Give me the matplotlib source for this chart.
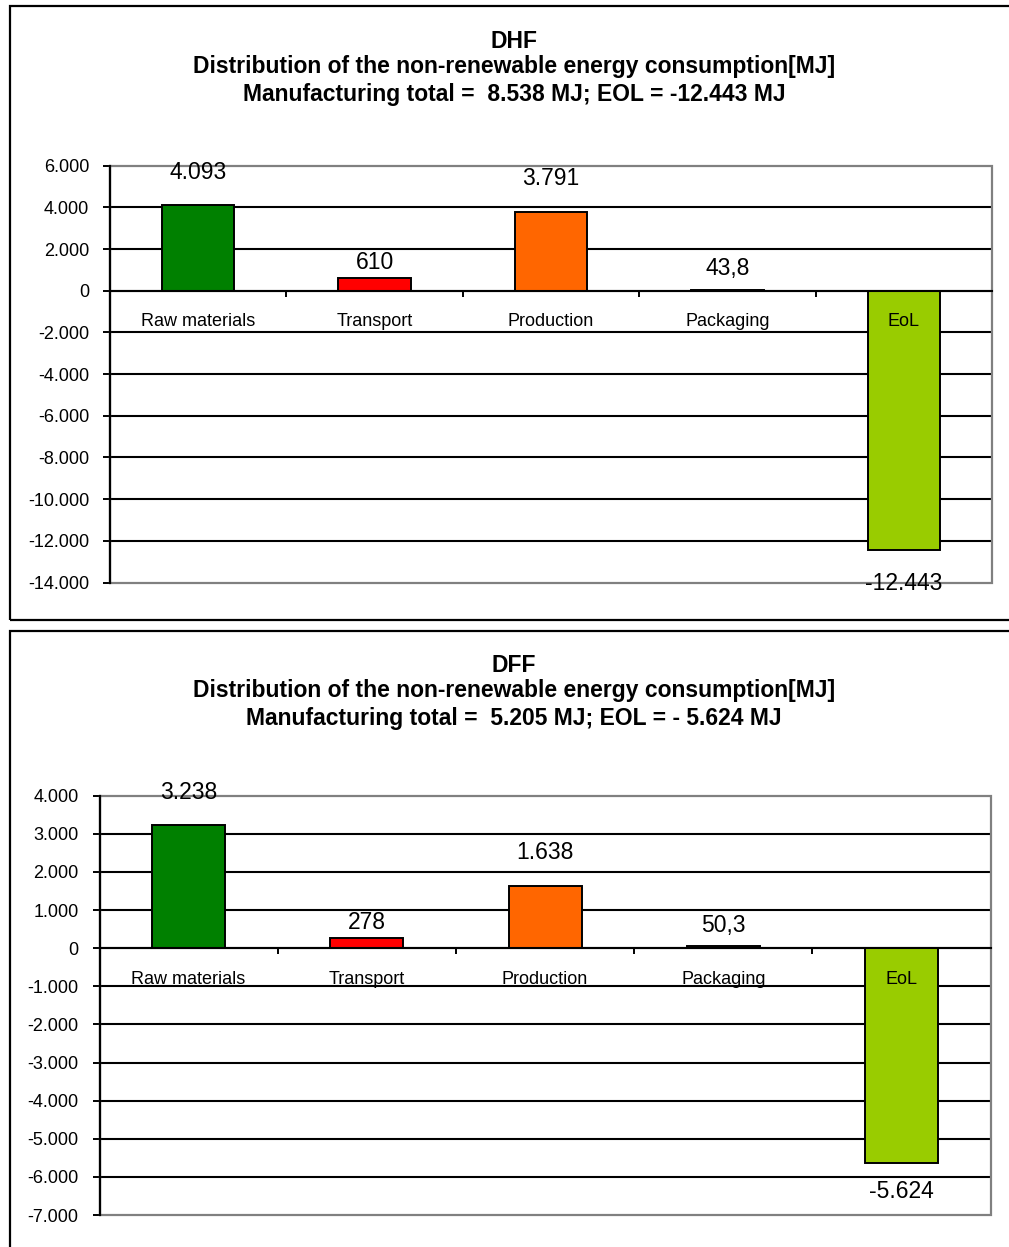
import matplotlib
matplotlib.use("Agg")
import matplotlib.pyplot as plt
from matplotlib.patches import Rectangle
from matplotlib.ticker import FuncFormatter, FixedLocator

plt.rcParams['font.family'] = ['Liberation Sans', 'DejaVu Sans']

categories = ["Raw materials", "Transport", "Production", "Packaging", "EoL"]
bar_colors = ["#008000", "#FF0000", "#FF6600", "#FFCC00", "#99CC00"]

dhf_values = [4093, 610, 3791, 43.8, -12443]
dff_values = [3238, 278, 1638, 50.3, -5624]

dhf_title = ["DHF",
             "Distribution of the non-renewable energy consumption[MJ]",
             "Manufacturing total =  8.538 MJ; EOL = -12.443 MJ"]
dff_title = ["DFF",
             "Distribution of the non-renewable energy consumption[MJ]",
             "Manufacturing total =  5.205 MJ; EOL = - 5.624 MJ"]

dhf_yticks = list(range(-14000, 6001, 2000))
dff_yticks = list(range(-7000, 4001, 1000))

# vertical distance (pixels) of each value label from its bar end
dhf_label_gap = [33, 16, 33, 21, -33]
dff_label_gap = [32, 15, 33, 21, -29]


def fmt_num(v, pos=None):
    if float(v).is_integer():
        return f"{int(v):,}".replace(",", ".")
    return f"{v:.1f}".replace(".", ",")


W, H = 1009, 1247
fig = plt.figure(figsize=(W / 100, H / 100), dpi=100)


def fx(px):
    return px / W


def fy(py):
    return 1 - py / H


# outer chart frames
fig.add_artist(Rectangle((fx(10), fy(620)), 1.2, fy(6) - fy(620),
                         transform=fig.transFigure, fill=False,
                         edgecolor="black", lw=1.6))
fig.add_artist(Rectangle((fx(10), -0.1), 1.2, fy(630.5) + 0.1,
                         transform=fig.transFigure, fill=False,
                         edgecolor="black", lw=1.6))


def draw_panel(rect, values, yticks, title_lines, title_y, gaps):
    ax = fig.add_axes(rect)
    x = list(range(len(categories)))
    ax.set_xlim(-0.5, len(categories) - 0.5)
    ax.set_ylim(yticks[0], yticks[-1])

    ax.bar(x, values, width=0.41, color=bar_colors, edgecolor="black",
           linewidth=1.4, zorder=3)

    # horizontal gridlines
    for t in yticks[1:-1]:
        ax.axhline(t, color="black", lw=1.5, zorder=1)

    # plot-area border in grey
    ax.add_patch(Rectangle((0, 0), 1, 1, transform=ax.transAxes, fill=False,
                           edgecolor="#808080", lw=1.6, zorder=2, clip_on=False))

    for s in ["top", "right"]:
        ax.spines[s].set_visible(False)
    ax.spines["left"].set_color("black")
    ax.spines["left"].set_linewidth(1.6)
    ax.spines["left"].set_zorder(4)
    ax.spines["bottom"].set_position(("data", 0))
    ax.spines["bottom"].set_linewidth(1.5)
    ax.spines["bottom"].set_zorder(4)

    ax.yaxis.set_major_locator(FixedLocator(yticks))
    ax.yaxis.set_major_formatter(FuncFormatter(fmt_num))
    ax.tick_params(axis="y", direction="out", length=5, width=1.4,
                   pad=10, labelsize=13, colors="black")

    ax.xaxis.set_major_locator(FixedLocator([i + 0.5 for i in x]))
    ax.tick_params(axis="x", direction="out", length=4, width=1.4,
                   labelbottom=False)

    for i, (c, v, g) in enumerate(zip(categories, values, gaps)):
        ax.annotate(c, (i, 0), xytext=(0, -31), textcoords="offset pixels",
                    ha="center", va="center", fontsize=13, zorder=6)
        ax.annotate(fmt_num(v), (i, v), xytext=(0, g),
                    textcoords="offset pixels", ha="center", va="center",
                    fontsize=16.5, zorder=6, annotation_clip=False)

    for line, py in zip(title_lines, title_y):
        fig.text(fx(514), fy(py), line, ha="center", va="center",
                 fontsize=16.5, fontweight="bold")
    return ax


draw_panel([fx(110), fy(582.5), fx(992) - fx(110), fy(165.7) - fy(582.5)],
           dhf_values, dhf_yticks, dhf_title, [42, 67, 95], dhf_label_gap)
draw_panel([fx(99.5), fy(1215), fx(990.7) - fx(99.5), fy(795.7) - fy(1215)],
           dff_values, dff_yticks, dff_title, [665, 691, 719], dff_label_gap)

fig.savefig("out.png", dpi=100)
